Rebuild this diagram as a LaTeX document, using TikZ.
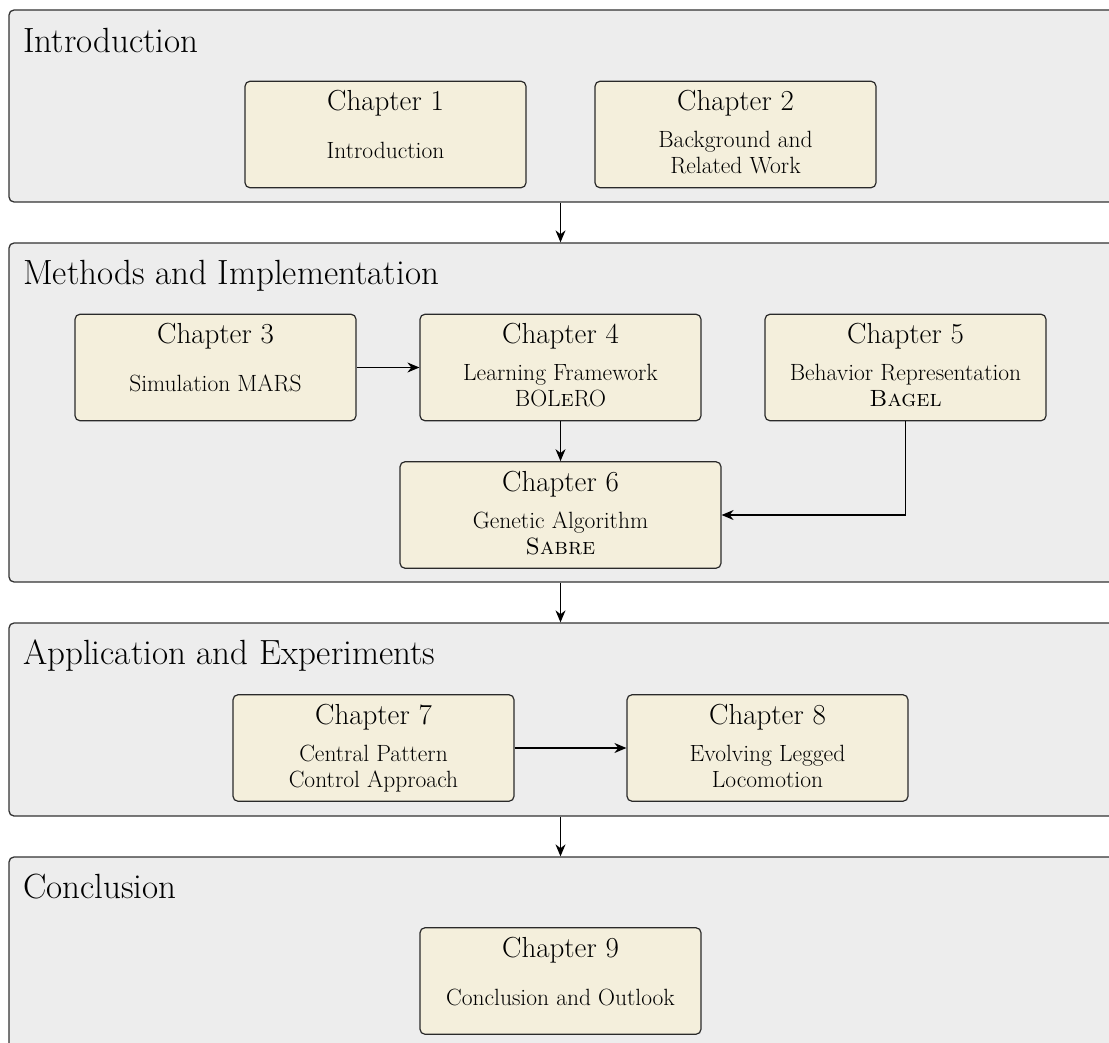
\documentclass[tikz,border=0pt]{standalone}
\usepackage{fontspec}
\usetikzlibrary{arrows.meta,calc}
\definecolor{framefill}{HTML}{EDEDED}
\definecolor{framedraw}{HTML}{333333}
\definecolor{boxfill}{HTML}{F4EFDC}
\definecolor{boxdraw}{HTML}{2A2A2A}
\tikzset{
 partframe/.style={draw=framedraw, fill=framefill, line width=1.3pt, rounded corners=5pt, rectangle, inner sep=0pt, minimum width=1111pt},
 chapbox/.style={draw=boxdraw, fill=boxfill, line width=1.2pt, rounded corners=5pt, rectangle, inner sep=0pt, minimum width=281pt, minimum height=106.5pt},
 parttitle/.style={anchor=base west, inner sep=0pt, font=\fontsize{35}{42}\selectfont},
 chaptitle/.style={anchor=base, inner sep=0pt, font=\fontsize{29}{35}\selectfont},
 chapsub/.style={anchor=base, inner sep=0pt, align=center, font=\fontsize{23.5}{26}\selectfont},
 conn/.style={draw=black, line width=1.2pt, -{Stealth[length=12pt,width=10pt]}},
}
\begin{document}
\begin{tikzpicture}[x=1pt,y=-1pt]
\useasboundingbox (0,0) rectangle (1109,1043);
\clip (0,0) rectangle (1109,1043);
% part frames
\node[partframe, minimum height=192pt] (f1) at (564.5,106) {};
\node[partframe, minimum height=339pt] (f2) at (564.5,412.5) {};
\node[partframe, minimum height=193pt] (f3) at (564.5,719.5) {};
\node[partframe, minimum height=213pt] (f4) at (564.5,963.5) {};
\node[parttitle] (p1) at (23,53) {Introduction};
\node[parttitle] (p2) at (23,284) {Methods and Implementation};
\node[parttitle] (p3) at (23,664) {Application and Experiments};
\node[parttitle] (p4) at (23,898) {Conclusion};
% chapter boxes
\node[chapbox] (c1) at (385.5,134.5) {};
\node[chapbox] (c2) at (735.5,134.5) {};
\node[chapbox] (c3) at (215.5,367.5) {};
\node[chapbox] (c4) at (560.5,367.5) {};
\node[chapbox] (c5) at (905.5,367.5) {};
\node[chapbox, minimum width=321pt] (c6) at (560.5,515) {};
\node[chapbox] (c7) at (373.5,748) {};
\node[chapbox] (c8) at (767.5,748) {};
\node[chapbox] (c9) at (560.5,981) {};
% chapter texts
\node[chaptitle] (t1) at ($(c1.north)+(0,30)$) {Chapter 1};
\node[chapsub] (s1) at ($(c1.north)+(0,78)$) {Introduction};
\node[chaptitle] (t2) at ($(c2.north)+(0,30)$) {Chapter 2};
\node[chapsub] (s2) at ($(c2.north)+(0,93)$) {Background and\\Related Work};
\node[chaptitle] (t3) at ($(c3.north)+(0,30)$) {Chapter 3};
\node[chapsub] (s3) at ($(c3.north)+(0,78)$) {Simulation MARS};
\node[chaptitle] (t4) at ($(c4.north)+(0,30)$) {Chapter 4};
\node[chapsub] (s4) at ($(c4.north)+(0,93)$) {Learning Framework\\BOL\textsc{e}RO};
\node[chaptitle] (t5) at ($(c5.north)+(0,30)$) {Chapter 5};
\node[chapsub] (s5) at ($(c5.north)+(0,93)$) {Behavior Representation\\\textsc{Bagel}};
\node[chaptitle] (t6) at ($(c6.north)+(0,30)$) {Chapter 6};
\node[chapsub] (s6) at ($(c6.north)+(0,93)$) {Genetic Algorithm\\\textsc{Sabre}};
\node[chaptitle] (t7) at ($(c7.north)+(0,30)$) {Chapter 7};
\node[chapsub] (s7) at ($(c7.north)+(0,93)$) {Central Pattern\\Control Approach};
\node[chaptitle] (t8) at ($(c8.north)+(0,30)$) {Chapter 8};
\node[chapsub] (s8) at ($(c8.north)+(0,93)$) {Evolving Legged\\Locomotion};
\node[chaptitle] (t9) at ($(c9.north)+(0,30)$) {Chapter 9};
\node[chapsub] (s9) at ($(c9.north)+(0,78)$) {Conclusion and Outlook};
% connectors
\draw[conn] (f1.south -| c4) -- (f2.north -| c4);
\draw[conn] (f2.south -| c4) -- (f3.north -| c4);
\draw[conn] (f3.south -| c4) -- (f4.north -| c4);
\draw[conn] (c3.east) -- (c4.west);
\draw[conn] (c4.south) -- (c6.north);
\draw[conn] (c5.south) |- (c6.east);
\draw[conn] (c7.east) -- (c8.west);
\end{tikzpicture}
\end{document}
